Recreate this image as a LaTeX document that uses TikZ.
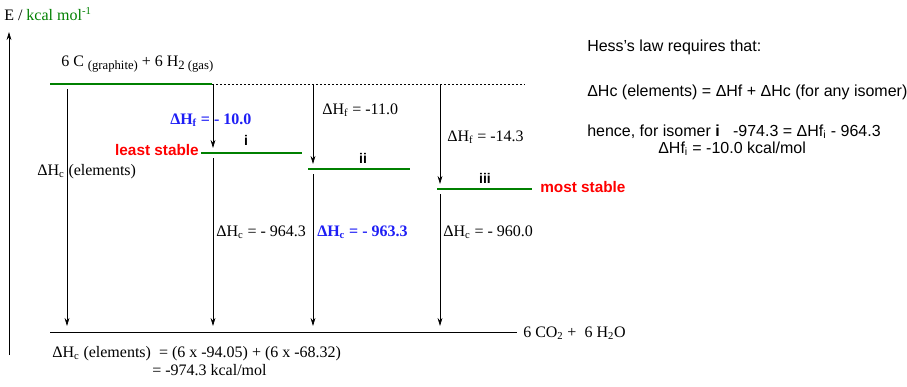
\documentclass[tikz,border=0pt]{standalone}
\usepackage{fontspec}
\setmainfont{Liberation Serif}
\setsansfont{Liberation Sans}
\usetikzlibrary{arrows.meta}

\definecolor{lvlgreen}{RGB}{0,128,0}
\definecolor{hfblue}{RGB}{30,30,245}
\definecolor{stabred}{RGB}{255,0,0}

\newcommand{\lowsub}[1]{\raisebox{-0.45ex}{\fontsize{9.5}{11}\selectfont #1}}

\tikzset{
  level/.style={draw=lvlgreen, line width=1.6pt},
  enarrow/.style={-{Stealth[length=6pt,width=3.6pt]}, line width=0.6pt},
  lbl/.style={font=\fontsize{12}{14}\selectfont, inner sep=0pt, anchor=base west},
  isolbl/.style={font=\sffamily\bfseries\fontsize{10.5}{12}\selectfont, inner sep=0pt, anchor=base},
  stab/.style={font=\sffamily\bfseries\fontsize{11.5}{13}\selectfont, text=stabred, inner sep=0pt},
  hess/.style={font=\sffamily\fontsize{12}{14}\selectfont, inner sep=0pt, anchor=base west},
}

\begin{document}
\begin{tikzpicture}[x=0.75pt,y=-0.75pt]
  \useasboundingbox (0,0) rectangle (907,386);
  % energy axis
  \coordinate (axbot) at (9,355);
  \coordinate (axtop) at (9,32);
  \draw[enarrow] (axbot) -- (axtop);
  \node[lbl] (eunit) at (4,20) {E / \textcolor{lvlgreen}{kcal mol\textsuperscript{-1}}};
  % elements and products
  \coordinate (elemL) at (50,84);
  \coordinate (elemR) at (212,84);
  \coordinate (elemE) at (525,84);
  \draw[level] (elemL) -- (elemR);
  \draw[dash pattern=on 1.5pt off 1.5pt, line width=0.5pt] (elemR) -- (elemE);
  \node[lbl] (elem) at (61,66) {6 C \lowsub{(graphite)} + 6 H\lowsub{2 (gas)}};
  \coordinate (prodL) at (50,332);
  \coordinate (prodR) at (517,332);
  \draw[line width=0.6pt] (prodL) -- (prodR);
  \node[lbl] (prod) at (523,337) {6 CO\textsubscript{2} +\ \ 6 H\textsubscript{2}O};
  % isomer levels
  \coordinate (iL) at (201,153);   \coordinate (iR) at (302,153);
  \coordinate (iiL) at (308,169);  \coordinate (iiR) at (410,169);
  \coordinate (iiiL) at (437,189); \coordinate (iiiR) at (532,189);
  \draw[level] (iL) -- (iR);
  \draw[level] (iiL) -- (iiR);
  \draw[level] (iiiL) -- (iiiR);
  \node[isolbl] (isoi) at (246,145) {i};
  \node[isolbl] (isoii) at (363,163) {ii};
  \node[isolbl] (isoiii) at (485,183) {iii};
  \node[stab, anchor=base east] (least) at (199,155) {least stable};
  \node[stab, anchor=base west] (most) at (540,192) {most stable};
  % heats of formation
  \coordinate (fi1) at (213,84);  \coordinate (fi2) at (213,148);
  \coordinate (fii1) at (313,84); \coordinate (fii2) at (313,164);
  \coordinate (fiii1) at (440,85); \coordinate (fiii2) at (440,184);
  \draw[enarrow] (fi1) -- (fi2);
  \draw[enarrow] (fii1) -- (fii2);
  \draw[enarrow] (fiii1) -- (fiii2);
  \node[lbl, text=hfblue, font=\bfseries\fontsize{12}{14}\selectfont] (hfi) at (170,124) {ΔH\textsubscript{f} = - 10.0};
  \node[lbl] (hfii) at (322,114) {ΔH\textsubscript{f} = -11.0};
  \node[lbl] (hfiii) at (447,141) {ΔH\textsubscript{f} = -14.3};
  % heats of combustion
  \coordinate (ce1) at (67,89);   \coordinate (ce2) at (67,326);
  \coordinate (ci1) at (213,158); \coordinate (ci2) at (213,326);
  \coordinate (cii1) at (313,174); \coordinate (cii2) at (313,326);
  \coordinate (ciii1) at (440,194); \coordinate (ciii2) at (440,326);
  \draw[enarrow] (ce1) -- (ce2);
  \draw[enarrow] (ci1) -- (ci2);
  \draw[enarrow] (cii1) -- (cii2);
  \draw[enarrow] (ciii1) -- (ciii2);
  \node[lbl] (hce) at (37,175) {ΔH\textsubscript{c} (elements)};
  \node[lbl] (hci) at (216,236) {ΔH\textsubscript{c} = - 964.3};
  \node[lbl, text=hfblue, font=\bfseries\fontsize{12}{14}\selectfont] (hcii) at (317,236) {ΔH\textsubscript{c} = - 963.3};
  \node[lbl] (hciii) at (443,236) {ΔH\textsubscript{c} = - 960.0};
  % sum for the elements
  \node[lbl] (sum1) at (52,357) {ΔH\textsubscript{c} (elements)\ \ = (6 x -94.05) + (6 x -68.32)};
  \node[lbl] (sum2) at (sum1.base west -| 152,0) [yshift=-13.5pt] {= -974.3 kcal/mol};
  % Hess's law
  \node[hess] (hess1) at (587,51) {Hess's law requires that:};
  \node[hess] (hess2) at (587,96) {ΔHc (elements) = ΔHf + ΔHc (for any isomer)};
  \node[hess] (hess3) at (587,136) {hence, for isomer \textbf{i}\ \ \ -974.3 = ΔHf\textsubscript{i} - 964.3};
  \node[hess] (hess4) at (658,153) {ΔHf\textsubscript{i} = -10.0 kcal/mol};
\end{tikzpicture}
\end{document}
